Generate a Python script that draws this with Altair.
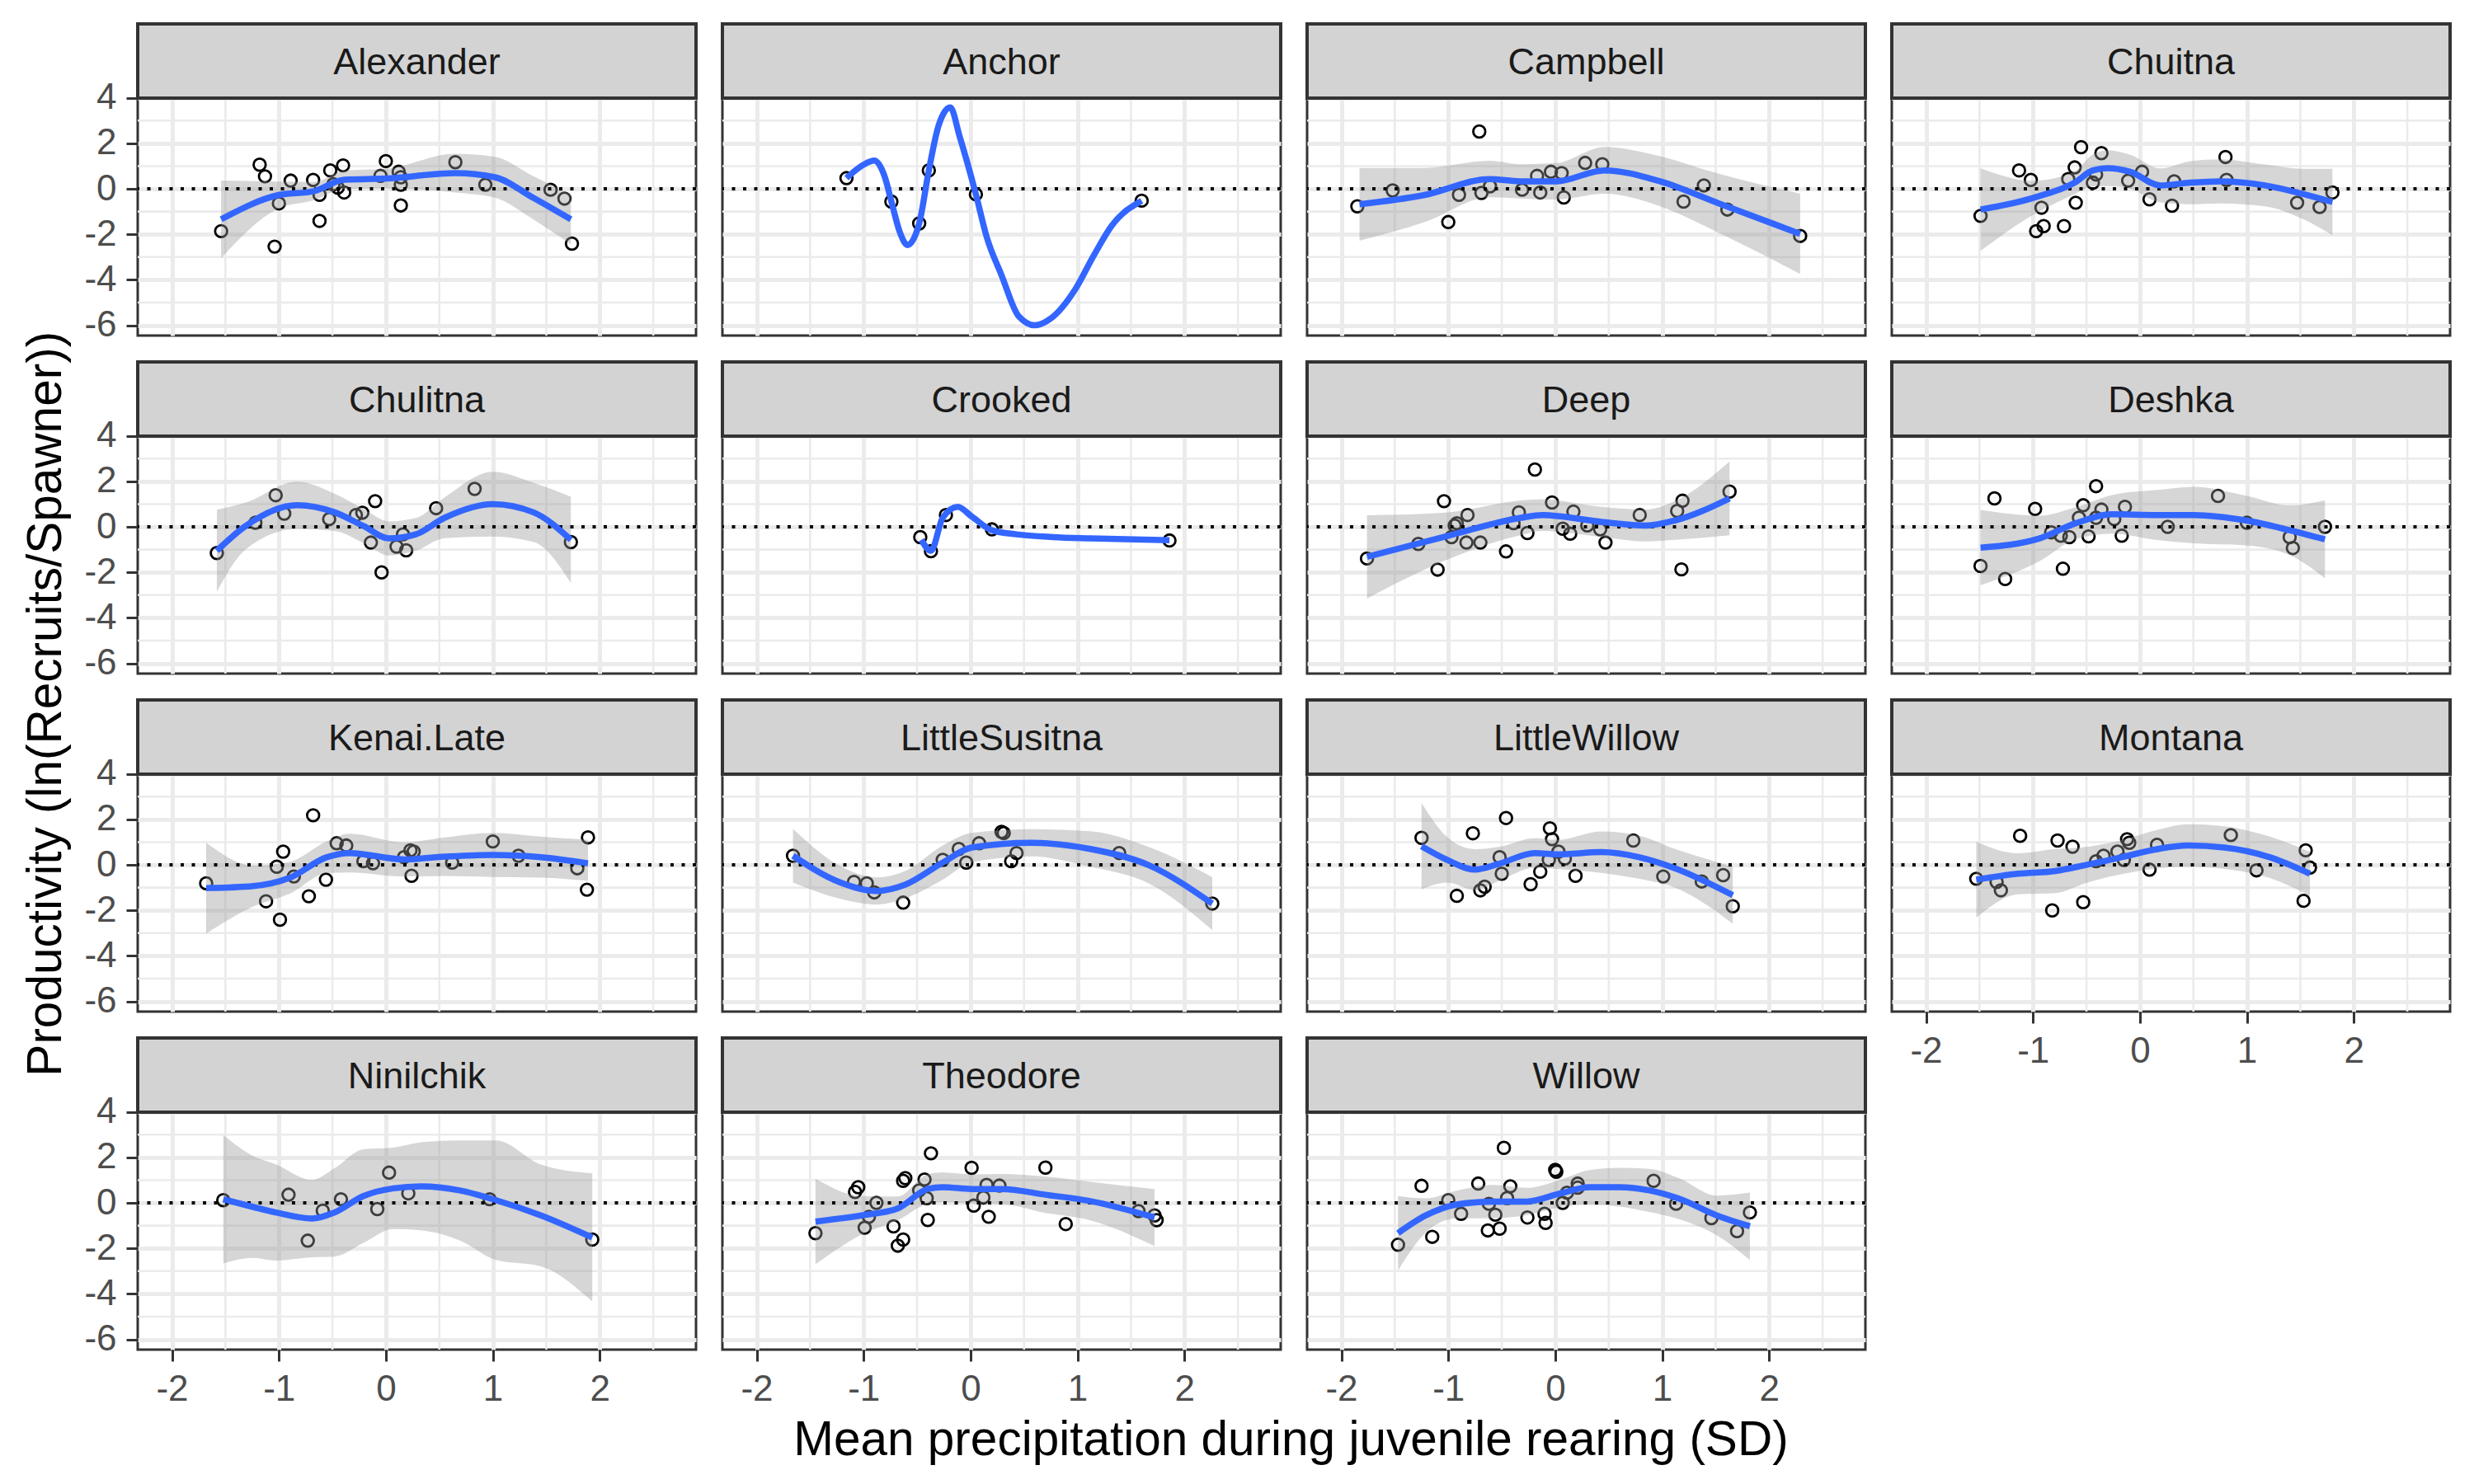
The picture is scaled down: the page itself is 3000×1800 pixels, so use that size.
import pandas as pd
import altair as alt

FONT = "Liberation Sans"

X_TICKS = [-2, -1, 0, 1, 2]
Y_TICKS = [4, 2, 0, -2, -4, -6]
X_MINOR = [-1.5, -0.5, 0.5, 1.5, 2.5]
Y_MINOR = [3, 1, -1, -3, -5]

# points (x, y) and smooth (x, fit, lo, hi)
ALEXANDER_PTS = [(-1.54, -1.86), (-1.18, 1.06), (-1.13, 0.55), (-1.04, -2.54), (-1.00, -0.64),
                 (-0.89, 0.36), (-0.68, 0.39), (-0.62, -0.26), (-0.62, -1.41), (-0.52, 0.81),
                 (-0.49, 0.20), (-0.45, 0.05), (-0.40, 1.03), (-0.39, -0.16), (0.00, 1.22),
                 (-0.05, 0.57), (0.12, 0.75), (0.14, 0.51), (0.14, 0.18), (0.14, -0.73),
                 (0.65, 1.17), (0.93, 0.18), (1.54, -0.04), (1.67, -0.43), (1.74, -2.41)]
ALEXANDER_FIT = [(-1.54, -1.34, -3.04, 0.36), (-1.01, -0.28, -0.88, 0.32), (-0.67, -0.10, -0.50, 0.30),
                 (-0.39, 0.40, 0.00, 0.80), (0.00, 0.45, 0.02, 0.88), (0.65, 0.69, -0.16, 1.54),
                 (1.02, 0.51, -0.39, 1.41), (1.38, -0.40, -1.35, 0.55), (1.73, -1.34, -2.44, -0.24)]

ANCHOR_PTS = [(-1.16, 0.47), (-0.74, -0.56), (-0.48, -1.52), (-0.39, 0.81), (0.05, -0.24), (1.60, -0.52)]
ANCHOR_FIT = [(-1.16, 0.47), (-1.00, 1.06), (-0.90, 1.24), (-0.80, 0.50), (-0.74, -0.56), (-0.66, -1.92),
              (-0.59, -2.47), (-0.48, -1.52), (-0.39, 0.81), (-0.30, 2.76), (-0.19, 3.58), (-0.10, 2.27),
              (0.05, -0.24), (0.15, -2.10), (0.29, -3.80), (0.45, -5.60), (0.60, -6.00), (0.75, -5.70),
              (0.98, -4.41), (1.15, -2.95), (1.32, -1.62), (1.60, -0.52)]

CAMPBELL_PTS = [(-1.85, -0.77), (-1.52, -0.07), (-1.00, -1.46), (-0.90, -0.26), (-0.71, 2.52),
                (-0.69, -0.18), (-0.61, 0.11), (-0.31, -0.04), (-0.17, 0.57), (-0.14, -0.16),
                (-0.04, 0.75), (0.06, 0.69), (0.08, -0.38), (0.28, 1.14), (0.44, 1.08),
                (1.20, -0.56), (1.39, 0.15), (1.61, -0.91), (2.29, -2.07)]
CAMPBELL_FIT = [(-1.83, -0.68, -2.28, 0.92), (-1.23, -0.28, -1.48, 0.92), (-0.61, 0.43, -0.37, 1.23),
                (-0.33, 0.33, -0.42, 1.08), (0.01, 0.33, -0.47, 1.13), (0.46, 0.81, -0.22, 1.84),
                (0.98, 0.33, -0.77, 1.43), (1.53, -0.64, -1.94, 0.66), (2.29, -1.98, -3.74, -0.22)]

CHUITNA_PTS = [(-1.49, -1.19), (-1.13, 0.81), (-1.02, 0.39), (-0.92, -0.83), (-0.97, -1.86),
               (-0.90, -1.64), (-0.71, -1.64), (-0.67, 0.43), (-0.61, 0.94), (-0.60, -0.61),
               (-0.55, 1.83), (-0.44, 0.27), (-0.41, 0.63), (-0.36, 1.57), (-0.11, 0.36),
               (0.02, 0.75), (0.09, -0.46), (0.30, -0.74), (0.32, 0.33), (0.80, 1.40),
               (0.81, 0.39), (1.47, -0.61), (1.68, -0.80), (1.80, -0.16)]
CHUITNA_FIT = [(-1.49, -0.91, -2.73, 0.91), (-1.00, -0.40, -1.15, 0.35), (-0.61, 0.27, -0.23, 0.77),
               (-0.44, 0.81, 0.11, 1.51), (-0.30, 0.91, 0.12, 1.70), (-0.09, 0.75, 0.00, 1.50),
               (0.19, 0.15, -0.60, 0.90), (0.47, 0.27, -0.68, 1.22), (0.75, 0.33, -0.64, 1.30),
               (1.17, 0.15, -0.77, 1.07), (1.52, -0.22, -1.32, 0.88), (1.80, -0.58, -2.04, 0.88)]

CHULITNA_PTS = [(-1.58, -1.15), (-1.22, 0.18), (-1.03, 1.39), (-0.95, 0.58), (-0.53, 0.34),
                (-0.28, 0.52), (-0.22, 0.62), (-0.10, 1.13), (-0.14, -0.69), (-0.04, -2.00),
                (0.10, -0.87), (0.16, -0.33), (0.19, -1.03), (0.47, 0.82), (0.83, 1.67), (1.73, -0.67)]
CHULITNA_FIT = [(-1.58, -1.05, -2.85, 0.75), (-1.31, 0.04, -0.99, 1.07), (-0.83, 0.95, -0.09, 1.99),
                (-0.48, 0.64, -0.18, 1.46), (-0.21, 0.04, -0.71, 0.79), (0.03, -0.51, -1.26, 0.24),
                (0.28, -0.33, -1.05, 0.39), (0.55, 0.40, -0.50, 1.30), (1.00, 1.00, -0.42, 2.42),
                (1.38, 0.64, -0.66, 1.94), (1.73, -0.57, -2.46, 1.32)]

CROOKED_PTS = [(-0.47, -0.45), (-0.37, -1.07), (-0.23, 0.52), (0.20, -0.11), (1.86, -0.60)]
CROOKED_FIT = [(-0.46, -0.57), (-0.37, -1.05), (-0.26, 0.40), (-0.12, 0.88), (0.01, 0.46),
               (0.20, -0.15), (0.43, -0.33), (0.77, -0.45), (1.12, -0.51), (1.86, -0.59)]

DEEP_PTS = [(-1.76, -1.39), (-1.28, -0.75), (-1.10, -1.88), (-1.04, 1.13), (-0.97, -0.45),
            (-0.94, 0.06), (-0.92, 0.16), (-0.83, -0.69), (-0.82, 0.52), (-0.70, -0.69),
            (-0.46, -1.08), (-0.39, 0.16), (-0.34, 0.64), (-0.26, -0.27), (-0.19, 2.52),
            (-0.03, 1.07), (0.07, -0.08), (0.14, -0.30), (0.17, 0.67), (0.30, 0.06),
            (0.42, -0.11), (0.47, -0.69), (0.79, 0.52), (1.14, 0.70), (1.19, 1.15),
            (1.18, -1.87), (1.63, 1.55)]
DEEP_FIT = [(-1.76, -1.32, -3.15, 0.51), (-1.00, -0.39, -1.42, 0.64), (-0.32, 0.40, -0.36, 1.16),
            (-0.12, 0.52, -0.18, 1.22), (0.43, 0.22, -0.44, 0.88), (0.85, 0.06, -0.64, 0.76),
            (1.12, 0.28, -0.57, 1.13), (1.63, 1.25, -0.37, 2.87)]

DESHKA_PTS = [(-1.49, -1.72), (-1.36, 1.25), (-1.26, -2.29), (-0.98, 0.79), (-0.83, -0.24),
              (-0.74, -0.39), (-0.72, -1.84), (-0.66, -0.45), (-0.57, 0.40), (-0.53, 0.95),
              (-0.48, -0.42), (-0.41, 1.79), (-0.41, 0.40), (-0.36, 0.76), (-0.24, 0.34),
              (-0.17, -0.39), (-0.14, 0.88), (0.26, 0.00), (0.73, 1.36), (1.00, 0.18),
              (1.40, -0.45), (1.43, -0.93), (1.73, 0.00)]
DESHKA_FIT = [(-1.49, -0.91, -2.56, 0.74), (-0.94, -0.51, -1.51, 0.49), (-0.60, 0.16, -0.54, 0.86),
              (-0.26, 0.55, -0.30, 1.40), (0.16, 0.52, -0.58, 1.62), (0.50, 0.52, -0.72, 1.76),
              (0.99, 0.28, -0.81, 1.37), (1.40, -0.15, -1.24, 0.94), (1.73, -0.55, -2.26, 1.16)]

KENAI_PTS = [(-1.68, -0.81), (-1.12, -1.60), (-1.02, -0.08), (-0.99, -2.41), (-0.96, 0.58),
             (-0.86, -0.51), (-0.72, -1.38), (-0.68, 2.18), (-0.56, -0.65), (-0.46, 0.95),
             (-0.37, 0.85), (-0.21, 0.16), (-0.12, 0.07), (0.17, 0.34), (0.23, 0.64),
             (0.26, 0.58), (0.24, -0.48), (0.62, 0.10), (1.00, 1.03), (1.24, 0.40),
             (1.79, -0.15), (1.88, -1.09), (1.89, 1.21)]
KENAI_FIT = [(-1.68, -1.02, -3.02, 0.98), (-1.24, -0.93, -1.83, -0.03), (-0.90, -0.57, -1.27, 0.13),
             (-0.55, 0.34, -0.36, 1.04), (-0.34, 0.52, -0.33, 1.37), (0.17, 0.24, -0.51, 0.99),
             (0.55, 0.36, -0.49, 1.21), (1.00, 0.44, -0.53, 1.41), (1.45, 0.34, -0.56, 1.24),
             (1.89, 0.07, -0.70, 1.10)]

LSUSITNA_PTS = [(-1.66, 0.40), (-1.09, -0.75), (-0.97, -0.81), (-0.90, -1.21), (-0.63, -1.66),
                (-0.26, 0.22), (-0.11, 0.70), (-0.04, 0.10), (0.08, 0.95), (0.29, 1.45),
                (0.31, 1.40), (0.38, 0.16), (0.43, 0.52), (1.39, 0.52), (2.26, -1.70)]
LSUSITNA_FIT = [(-1.66, 0.40, -0.78, 1.58), (-1.23, -0.75, -1.48, -0.02), (-0.88, -1.15, -1.75, -0.55),
                (-0.61, -0.87, -1.47, -0.27), (-0.26, 0.10, -0.65, 0.85), (0.01, 0.76, 0.11, 1.41),
                (0.57, 0.97, 0.37, 1.57), (1.12, 0.70, -0.08, 1.48), (1.67, -0.02, -0.82, 0.78),
                (2.26, -1.70, -2.86, -0.54)]

LWILLOW_PTS = [(-1.25, 1.19), (-0.92, -1.36), (-0.77, 1.39), (-0.70, -1.12), (-0.66, -0.96),
               (-0.52, 0.34), (-0.50, -0.39), (-0.46, 2.06), (-0.23, -0.85), (-0.14, -0.30),
               (-0.05, 1.61), (-0.03, 1.13), (-0.06, 0.22), (0.03, 0.58), (0.09, 0.28),
               (0.19, -0.48), (0.73, 1.07), (1.01, -0.51), (1.37, -0.73), (1.57, -0.45), (1.66, -1.82)]
LWILLOW_FIT = [(-1.25, 0.82, -1.08, 2.72), (-1.01, 0.22, -0.78, 1.22), (-0.75, -0.21, -1.11, 0.69),
               (-0.53, 0.04, -0.71, 0.79), (-0.19, 0.52, -0.13, 1.17), (0.02, 0.46, -0.18, 1.10),
               (0.43, 0.56, -0.35, 1.47), (0.78, 0.34, -0.61, 1.29), (1.12, -0.15, -1.00, 0.70),
               (1.66, -1.33, -2.58, -0.08)]

MONTANA_PTS = [(-1.53, -0.61), (-1.34, -0.75), (-1.30, -1.12), (-1.12, 1.28), (-0.82, -2.00),
               (-0.77, 1.07), (-0.63, 0.80), (-0.53, -1.64), (-0.41, 0.16), (-0.34, 0.40),
               (-0.21, 0.58), (-0.15, 0.22), (-0.12, 1.13), (-0.10, 0.97), (0.09, -0.21),
               (0.16, 0.88), (0.85, 1.31), (1.09, -0.24), (1.53, -1.58), (1.55, 0.64), (1.59, -0.12)]
MONTANA_FIT = [(-1.53, -0.65, -2.32, 1.02), (-1.14, -0.39, -1.29, 0.51), (-0.79, -0.27, -1.24, 0.70),
               (-0.52, -0.02, -0.82, 0.78), (-0.17, 0.34, -0.41, 1.09), (0.17, 0.70, -0.15, 1.55),
               (0.45, 0.85, -0.08, 1.79), (0.79, 0.76, -0.18, 1.70), (1.21, 0.34, -0.57, 1.25),
               (1.59, -0.39, -1.36, 0.58)]

NINILCHIK_PTS = [(-1.52, 0.12), (-0.91, 0.36), (-0.73, -1.66), (-0.59, -0.34), (-0.42, 0.16),
                 (-0.08, -0.27), (0.03, 1.33), (0.21, 0.42), (0.97, 0.16), (1.93, -1.61)]
NINILCHIK_FIT = [(-1.52, 0.16, -2.66, 2.98), (-1.24, -0.18, -2.42, 2.06), (-1.03, -0.42, -2.54, 1.70),
                 (-0.69, -0.69, -2.39, 1.01), (-0.48, -0.42, -2.36, 1.52), (-0.21, 0.30, -1.76, 2.36),
                 (0.07, 0.64, -1.15, 2.43), (0.34, 0.73, -1.21, 2.67), (0.69, 0.55, -1.65, 2.75),
                 (1.03, 0.12, -2.51, 2.75), (1.45, -0.55, -2.79, 1.69), (1.93, -1.52, -4.34, 1.30)]

THEODORE_PTS = [(-1.45, -1.33), (-1.08, 0.48), (-1.05, 0.69), (-0.99, -1.09), (-0.95, -0.61),
                (-0.88, 0.00), (-0.72, -1.03), (-0.68, -1.88), (-0.63, -1.61), (-0.63, 0.97),
                (-0.61, 1.09), (-0.48, 0.55), (-0.43, 1.03), (-0.41, 0.21), (-0.40, -0.75),
                (-0.37, 2.18), (0.01, 1.54), (0.03, -0.12), (0.12, 0.24), (0.15, 0.79),
                (0.17, -0.61), (0.27, 0.76), (0.70, 1.55), (0.89, -0.93), (1.57, -0.36),
                (1.72, -0.55), (1.74, -0.76)]
THEODORE_FIT = [(-1.45, -0.82, -2.70, 1.06), (-1.02, -0.55, -1.39, 0.30), (-0.68, -0.24, -0.76, 0.28),
                (-0.40, 0.61, -0.04, 1.26), (-0.26, 0.69, 0.04, 1.34), (0.01, 0.61, -0.03, 1.25),
                (0.29, 0.61, -0.05, 1.27), (0.70, 0.36, -0.44, 1.16), (1.12, 0.08, -0.77, 0.93),
                (1.72, -0.64, -1.90, 0.61)]

WILLOW_PTS = [(-1.47, -1.84), (-1.25, 0.75), (-1.15, -1.49), (-1.00, 0.12), (-0.88, -0.48),
              (-0.72, 0.85), (-0.63, -1.21), (-0.62, -0.04), (-0.56, -0.52), (-0.52, -1.13),
              (-0.48, 2.42), (-0.45, 0.21), (-0.42, 0.73), (-0.26, -0.64), (-0.10, -0.48),
              (-0.09, -0.88), (0.00, 1.45), (0.01, 1.37), (0.07, 0.00), (0.11, 0.45),
              (0.21, 0.85), (0.21, 0.67), (0.92, 0.97), (1.13, -0.04), (1.46, -0.67),
              (1.70, -1.24), (1.82, -0.42)]
WILLOW_FIT = [(-1.47, -1.33, -2.97, 0.30), (-1.21, -0.55, -1.30, 0.20), (-0.93, -0.08, -0.69, 0.53),
              (-0.58, 0.06, -0.67, 0.79), (-0.27, 0.06, -0.54, 0.66), (0.05, 0.42, -0.18, 1.02),
              (0.32, 0.69, -0.06, 1.44), (0.60, 0.69, -0.16, 1.54), (0.88, 0.55, -0.40, 1.50),
              (1.16, 0.18, -0.72, 1.08), (1.51, -0.55, -1.42, 0.32), (1.82, -1.03, -2.51, 0.45)]

SITES = [
    ("Alexander", ALEXANDER_PTS, ALEXANDER_FIT),
    ("Anchor", ANCHOR_PTS, ANCHOR_FIT),
    ("Campbell", CAMPBELL_PTS, CAMPBELL_FIT),
    ("Chuitna", CHUITNA_PTS, CHUITNA_FIT),
    ("Chulitna", CHULITNA_PTS, CHULITNA_FIT),
    ("Crooked", CROOKED_PTS, CROOKED_FIT),
    ("Deep", DEEP_PTS, DEEP_FIT),
    ("Deshka", DESHKA_PTS, DESHKA_FIT),
    ("Kenai.Late", KENAI_PTS, KENAI_FIT),
    ("LittleSusitna", LSUSITNA_PTS, LSUSITNA_FIT),
    ("LittleWillow", LWILLOW_PTS, LWILLOW_FIT),
    ("Montana", MONTANA_PTS, MONTANA_FIT),
    ("Ninilchik", NINILCHIK_PTS, NINILCHIK_FIT),
    ("Theodore", THEODORE_PTS, THEODORE_FIT),
    ("Willow", WILLOW_PTS, WILLOW_FIT),
]

W, H, STRIP = 677, 378, 90
x_scale = alt.Scale(domain=[-2.32, 2.90], nice=False, zero=False)
y_scale = alt.Scale(domain=[-6.45, 7.25], nice=False, zero=False)
LABEL = "'' + datum.value"


def panel(i, name, pts, fit):
    show_x = i >= 11
    show_y = i % 4 == 0
    xa = alt.Axis(values=X_TICKS, labels=show_x, ticks=show_x, title=None, labelExpr=LABEL)
    ya = alt.Axis(values=Y_TICKS, labels=show_y, ticks=show_y, title=None, labelExpr=LABEL)

    def X(f):
        return alt.X(f, type="quantitative", scale=x_scale, axis=xa)

    def Y(f):
        return alt.Y(f, type="quantitative", scale=y_scale, axis=ya)

    minor_x = alt.Chart(pd.DataFrame({"v": X_MINOR})).mark_rule(
        color="#EBEBEB", strokeWidth=2.6).encode(x=X("v"))
    minor_y = alt.Chart(pd.DataFrame({"v": Y_MINOR})).mark_rule(
        color="#EBEBEB", strokeWidth=2.6).encode(y=Y("v"))

    pdf = pd.DataFrame(pts, columns=["x", "y"])
    points = alt.Chart(pdf).mark_point(
        shape="circle", filled=False, color="black", size=215, strokeWidth=2.8, opacity=1
    ).encode(x=X("x"), y=Y("y"))

    layers = [minor_x, minor_y, points]
    if len(fit[0]) == 4:
        fdf = pd.DataFrame(fit, columns=["x", "fit", "lo", "hi"])
        band = alt.Chart(fdf).mark_area(
            color="#999999", opacity=0.4, interpolate="monotone"
        ).encode(x=X("x"), y=Y("lo"), y2="hi")
        layers.append(band)
    else:
        fdf = pd.DataFrame(fit, columns=["x", "fit"])

    zero = alt.Chart(pd.DataFrame({"z": [0]})).mark_rule(
        color="black", strokeWidth=4, strokeDash=[4, 9.5]).encode(y=Y("z"))
    line = alt.Chart(fdf).mark_line(
        color="#3366FF", strokeWidth=7.5, interpolate="monotone").encode(x=X("x"), y=Y("fit"))

    sdf = pd.DataFrame({"name": [name]})
    strip = alt.Chart(sdf).mark_rect(fill="#D3D3D3", stroke="#333333", strokeWidth=4).encode(
        x=alt.value(0), x2=alt.value(W), y=alt.value(0), y2=alt.value(STRIP))
    label = alt.Chart(sdf).mark_text(font=FONT, fontSize=45, color="#1A1A1A", baseline="middle").encode(
        x=alt.value(W / 2), y=alt.value(STRIP / 2 + 2), text="name:N")

    layers += [zero, line, strip, label]
    return alt.layer(*layers).properties(width=W, height=H)


panels = [panel(i, n, p, f) for i, (n, p, f) in enumerate(SITES)]

grid = alt.concat(*panels, columns=4, spacing=32, bounds="flush").properties(
    title=alt.TitleParams("Mean precipitation during juvenile rearing (SD)", orient="bottom",
                          anchor="middle", fontSize=58.5, font=FONT, fontWeight="normal",
                          color="black", offset=10, dx=28)
)

chart = alt.hconcat(grid).properties(
    title=alt.TitleParams("Productivity (ln(Recruits/Spawner))", orient="left",
                          anchor="middle", fontSize=58.5, font=FONT, fontWeight="normal",
                          color="black", offset=14, dx=47),
    padding={"left": 18, "top": 17, "right": 5, "bottom": 5},
).configure_view(
    stroke="#333333", strokeWidth=3
).configure_axis(
    labelFont=FONT, labelFontSize=44, labelColor="#4D4D4D",
    tickColor="#333333", tickWidth=3, tickSize=14, labelPadding=12,
    gridColor="#EBEBEB", gridWidth=5, domain=False,
)

chart.save("out.html", embed_options={"renderer": "svg", "actions": False})
